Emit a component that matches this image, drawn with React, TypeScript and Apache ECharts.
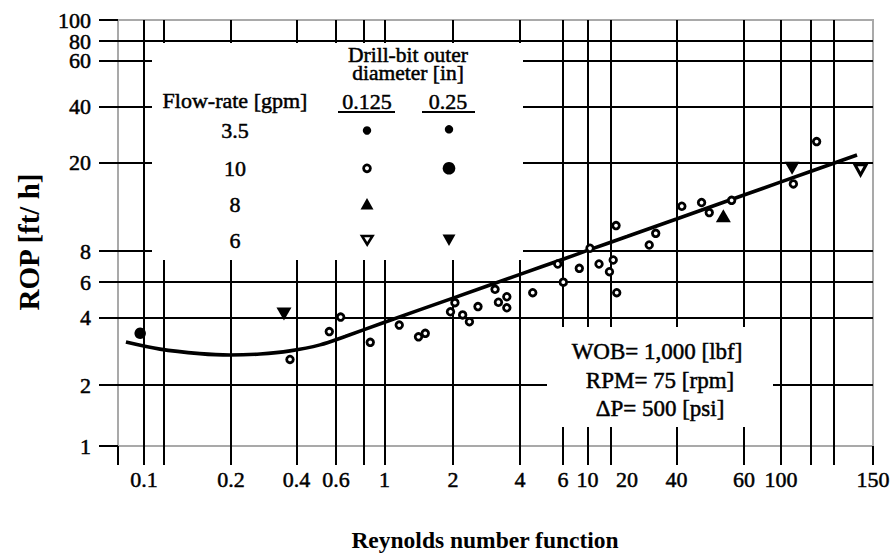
import React, { useEffect, useRef } from "react";
import * as echarts from "echarts";

// ---------- Axis ruling of the original (hand-ruled, non-uniform log paper) ----------
// value on the ruling -> axis unit (the axes are linear in these units)
const xRulingValues = [0.1, 0.2, 0.4, 0.6, 1, 2, 4, 6, 10, 20, 40, 60, 100, 150];
const xRulingUnits = [26, 113, 178.6, 218, 266.6, 335, 402, 445, 469.5, 509, 558.5, 626, 663, 755];
const yRulingValues = [1, 2, 4, 6, 8, 20, 40, 60, 80, 100];
const yRulingUnits = [0, 61, 128.5, 164, 195, 283.7, 339.3, 385.7, 405, 426];

// ---------- Tick labels and grid lines ----------
const xTickLabels = [0.1, 0.2, 0.4, 0.6, 1, 2, 4, 6, 10, 20, 40, 60, 100, 150];
const xGridValues = [0.1, 0.117, 0.2, 0.4, 0.6, 0.8, 1, 2, 4, 6, 10, 15, 40, 60, 100, 114, 126, 150];
const yTickValues = [1, 2, 4, 6, 8, 20, 40, 60, 80, 100];
const yTickLabelsMain = [1, 2, 4, 6, 8, 20, 40, 60, 100];
const yTickLabelsExtra = [80];

// ---------- Data ----------
// 10 gpm, 0.125 in (open circles)
const re10Small = [0.373, 0.56, 0.63, 0.86, 1.16, 1.41, 1.51, 1.95, 2.04, 2.21, 2.37, 2.59, 3.09, 3.2, 3.49, 3.49, 4.51, 5.71, 6.04, 8.43, 10.45, 12.24, 15.7, 14.7, 16.5, 16.7, 27.3, 29.9, 41.3, 46.5, 48.7, 55.7, 105.6, 117];
const rop10Small = [2.6, 3.46, 4.02, 3.1, 3.7, 3.28, 3.4, 4.27, 4.74, 4.12, 3.83, 4.53, 5.52, 4.76, 5.07, 4.47, 5.31, 7.09, 5.99, 6.81, 8.23, 7.09, 7.36, 6.6, 10.4, 5.31, 8.51, 9.6, 12.7, 13.2, 11.9, 13.5, 16.0, 25.9];
// 10 gpm, 0.25 in (large filled dot)
const re10Large = [0.097];
const rop10Large = [3.4];
// 8 gpm, 0.125 in (filled triangle up)
const re8Small = [53];
const rop8Small = [11.5];
// 6 gpm, 0.125 in (open triangle down)
const re6Small = [142];
const rop6Small = [18.5];
// 6 gpm, 0.25 in (filled triangle down)
const re6Large = [0.35, 105];
const rop6Large = [4.16, 18.8];
// fitted trend curve
const curveRe = [0.0866, 0.1136, 0.156, 0.198, 0.272, 0.373, 0.509, 0.66, 1.0, 2.0, 4.0, 6.0, 10, 20, 40, 60, 100, 139.8];
const curveRop = [3.11, 2.89, 2.76, 2.72, 2.75, 2.84, 3.02, 3.29, 3.81, 4.99, 6.44, 7.41, 8.05, 9.29, 11.13, 14.27, 16.33, 21.9];

const FONT = "Liberation Serif, Times New Roman, serif";

function makeRuling(vals: number[], units: number[]) {
  return (v: number) => {
    let i = 0;
    if (v <= vals[0]) i = 0;
    else if (v >= vals[vals.length - 1]) i = vals.length - 2;
    else {
      while (i < vals.length - 2 && v > vals[i + 1]) i++;
    }
    const l0 = Math.log(vals[i]);
    const l1 = Math.log(vals[i + 1]);
    return units[i] + ((units[i + 1] - units[i]) * (Math.log(v) - l0)) / (l1 - l0);
  };
}
const xMap = makeRuling(xRulingValues, xRulingUnits);
const yMap = makeRuling(yRulingValues, yRulingUnits);

function labelFormatter(labels: number[], map: (v: number) => number) {
  return (val: number) => {
    let best = "";
    let bd = Infinity;
    labels.forEach((l) => {
      const d = Math.abs(map(l) - val);
      if (d < bd) {
        bd = d;
        best = String(l);
      }
    });
    return bd < 0.5 ? best : "";
  };
}

const pts = (xs: number[], ys: number[]) => xs.map((x, i) => [xMap(x), yMap(ys[i])]);

export default function App() {
  const ref = useRef<HTMLDivElement>(null);
  useEffect(() => {
    if (!ref.current) return;
    const chart = echarts.init(ref.current, undefined, { renderer: "svg" });
    const black = "#000";
    const gridLine = { color: black, width: 2 };
    const labelStyle = {
      color: black,
      fontSize: 22,
      fontFamily: FONT,
      textBorderColor: black,
      textBorderWidth: 0.5,
      showMinLabel: true,
      showMaxLabel: true,
      hideOverlap: false,
    };
    const txt = (text: string, x: number, y: number, size: number, bold = false, extra: any = {}, lineHeight?: number) => ({
      type: "text",
      x,
      y,
      z: 5,
      ...extra,
      style: {
        text,
        fill: black,
        stroke: bold ? undefined : black,
        lineWidth: bold ? 0 : 0.5,
        align: "center",
        verticalAlign: "middle",
        fontSize: size,
        fontFamily: FONT,
        fontWeight: bold ? "bold" : "normal",
        lineHeight,
      },
    });
    const yAxisBase = {
      type: "value",
      min: 0,
      max: 426,
      position: "left",
      axisLine: { show: false },
    };
    const option: any = {
      animation: false,
      backgroundColor: "#fff",
      textStyle: { fontFamily: FONT, color: black },
      grid: {
        left: 118,
        right: 20,
        top: 20,
        bottom: 108,
        show: true,
        borderColor: "#a9a9a9",
        borderWidth: 2,
        backgroundColor: "transparent",
        containLabel: false,
        outerBoundsMode: "none",
      },
      xAxis: {
        type: "value",
        min: 0,
        max: 755,
        axisLine: { show: false },
        axisTick: {
          show: true,
          customValues: [0, ...xGridValues.map(xMap)],
          length: 19,
          lineStyle: gridLine,
        },
        axisLabel: {
          ...labelStyle,
          customValues: xTickLabels.map(xMap),
          formatter: labelFormatter(xTickLabels, xMap),
          margin: 22,
        },
        splitLine: { show: true, showMinLine: false, showMaxLine: false, lineStyle: gridLine },
      },
      yAxis: [
        {
          ...yAxisBase,
          axisTick: {
            show: true,
            customValues: yTickValues.map(yMap),
            length: 19,
            lineStyle: gridLine,
          },
          axisLabel: {
            ...labelStyle,
            customValues: yTickLabelsMain.map(yMap),
            formatter: labelFormatter(yTickLabelsMain, yMap),
            margin: 27,
          },
          splitLine: { show: true, showMinLine: false, showMaxLine: false, lineStyle: gridLine },
        },
        {
          ...yAxisBase,
          offset: 0,
          axisTick: { show: false },
          axisLabel: {
            ...labelStyle,
            customValues: yTickLabelsExtra.map(yMap),
            formatter: labelFormatter(yTickLabelsExtra, yMap),
            margin: 27,
          },
          splitLine: { show: false },
        },
      ],
      graphic: [
        // panels that interrupt the ruling (legend and conditions)
        { type: "rect", z: 1, shape: { x: 152, y: 43, width: 371, height: 217 }, style: { fill: "#fff" } },
        { type: "rect", z: 1, shape: { x: 547, y: 327, width: 226, height: 100 }, style: { fill: "#fff" } },
        // legend texts
        txt("Flow-rate [gpm]", 235, 100, 22),
        txt("Drill-bit outer\ndiameter [in]", 408, 63.5, 21.5, false, {}, 18),
        txt("0.125", 367, 101, 22),
        txt("0.25", 448, 101, 22),
        { type: "line", z: 5, shape: { x1: 338, y1: 112, x2: 395, y2: 112 }, style: { stroke: black, lineWidth: 2 } },
        { type: "line", z: 5, shape: { x1: 422, y1: 112, x2: 475, y2: 112 }, style: { stroke: black, lineWidth: 2 } },
        txt("3.5", 235, 130, 22),
        txt("10", 235, 168, 22),
        txt("8", 235, 204, 22),
        txt("6", 235, 240, 22),
        // legend markers
        { type: "circle", z: 5, shape: { cx: 367, cy: 130.5, r: 4.2 }, style: { fill: black } },
        { type: "circle", z: 5, shape: { cx: 449, cy: 129.3, r: 4.2 }, style: { fill: black } },
        { type: "circle", z: 5, shape: { cx: 367, cy: 168.3, r: 3.4 }, style: { fill: "#fff", stroke: black, lineWidth: 2.8 } },
        { type: "circle", z: 5, shape: { cx: 449, cy: 168.3, r: 6.3 }, style: { fill: black } },
        { type: "polygon", z: 5, shape: { points: [[367, 198], [373.5, 209.5], [360.5, 209.5]] }, style: { fill: black } },
        { type: "polygon", z: 5, shape: { points: [[362, 236], [372.5, 236], [367.2, 244.5]] }, style: { fill: "#fff", stroke: black, lineWidth: 2.6, lineJoin: "miter" } },
        { type: "polygon", z: 5, shape: { points: [[442.5, 234.5], [455.5, 234.5], [449, 246]] }, style: { fill: black } },
        // test conditions
        txt("WOB= 1,000 [lbf]", 657, 351, 23),
        txt("RPM= 75 [rpm]", 660, 380, 23),
        txt("ΔP= 500 [psi]", 660, 408, 23),
        // axis titles
        txt("ROP [ft/ h]", 29, 242, 29, true, { rotation: Math.PI / 2 }),
        txt("Reynolds number function", 485, 540, 23.5, true),
      ],
      series: [
        {
          name: "Trend",
          type: "line",
          data: pts(curveRe, curveRop),
          showSymbol: false,
          smooth: 0.3,
          lineStyle: { color: black, width: 3.6 },
          z: 2,
          silent: true,
        },
        {
          name: "10 gpm, 0.125 in",
          type: "scatter",
          data: pts(re10Small, rop10Small),
          symbol: "circle",
          symbolSize: 6.6,
          itemStyle: { color: "#fff", borderColor: black, borderWidth: 2.8, opacity: 1 },
          z: 3,
        },
        {
          name: "10 gpm, 0.25 in",
          type: "scatter",
          data: pts(re10Large, rop10Large),
          symbol: "circle",
          symbolSize: 11.5,
          itemStyle: { color: black, opacity: 1 },
          z: 3,
        },
        {
          name: "8 gpm, 0.125 in",
          type: "scatter",
          data: pts(re8Small, rop8Small),
          symbol: "triangle",
          symbolSize: [15, 13],
          itemStyle: { color: black, opacity: 1 },
          z: 3,
        },
        {
          name: "6 gpm, 0.125 in",
          type: "scatter",
          data: pts(re6Small, rop6Small),
          symbol: "triangle",
          symbolRotate: 180,
          symbolSize: [11, 10],
          itemStyle: { color: "#fff", borderColor: black, borderWidth: 3, opacity: 1 },
          z: 3,
        },
        {
          name: "6 gpm, 0.25 in",
          type: "scatter",
          data: pts(re6Large, rop6Large),
          symbol: "triangle",
          symbolRotate: 180,
          symbolSize: [15, 13],
          itemStyle: { color: black, opacity: 1 },
          z: 3,
        },
      ],
    };
    chart.setOption(option);
    return () => chart.dispose();
  }, []);
  return (
    <div
      ref={ref}
      style={{ position: "fixed", left: 0, top: 0, width: 893, height: 554, background: "#fff" }}
    />
  );
}
